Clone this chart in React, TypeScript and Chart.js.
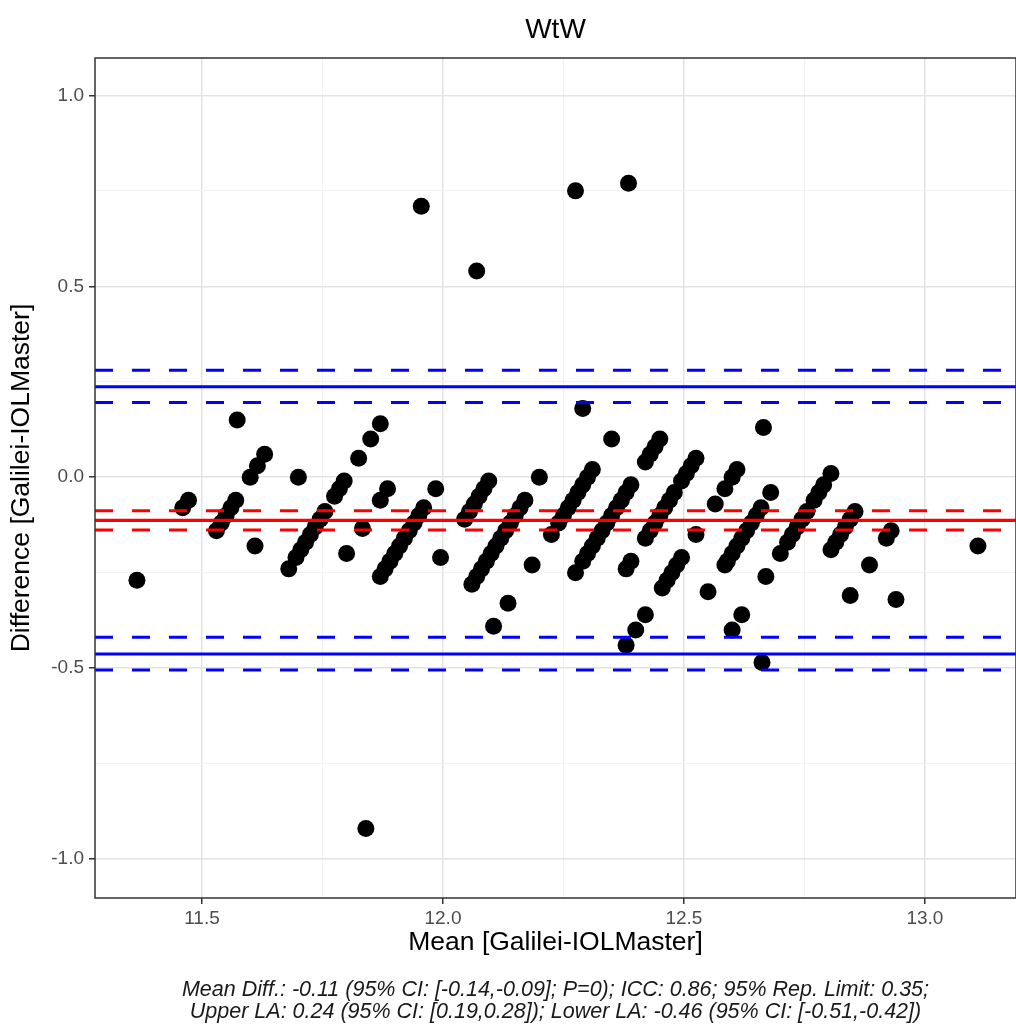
import React, { useEffect, useRef } from "react";
import { Chart, registerables } from "chart.js";

Chart.register(...registerables);

const chartTitle = "WtW";
const xTitle = "Mean [Galilei-IOLMaster]";
const yTitle = "Difference [Galilei-IOLMaster]";
const footerLines = [
  "Mean Diff.: -0.11 (95% CI: [-0.14,-0.09]; P=0); ICC: 0.86; 95% Rep. Limit: 0.35;",
  "Upper LA: 0.24 (95% CI: [0.19,0.28]); Lower LA: -0.46 (95% CI: [-0.51,-0.42])",
];

const xTicks = [11.5, 11.75, 12.0, 12.25, 12.5, 12.75, 13.0];
const yTicks = [-1.0, -0.75, -0.5, -0.25, 0, 0.25, 0.5, 0.75, 1.0];
const xRange = [11.278, 13.189];
const yRange = [-1.102, 1.098];

// Mean of the two devices (x) — one line per diagonal streak
const meanValues = [
  11.573, 11.472, 11.46, 11.365,
  11.6, 11.615, 11.63, 11.57, 11.56, 11.55, 11.54, 11.53,
  11.7, 11.61,
  11.87, 11.85, 11.825, 11.795, 11.785, 11.775, 11.755, 11.745, 11.735, 11.725, 11.715, 11.705, 11.695, 11.68,
  11.885, 11.87, 11.833, 11.8,
  11.985, 11.96, 11.95, 11.94, 11.93, 11.92, 11.91, 11.9, 11.89, 11.88, 11.87,
  12.095, 12.085, 12.075, 12.065, 12.055, 12.045, 11.995,
  12.29, 12.2, 12.17, 12.16, 12.15, 12.14, 12.13, 12.12, 12.11, 12.1, 12.09, 12.08, 12.07, 12.06,
  12.35, 12.31, 12.3, 12.29, 12.28, 12.27, 12.26, 12.25, 12.24, 12.225, 12.185, 12.135, 12.105,
  12.45, 12.44, 12.43, 12.42, 12.39, 12.38, 12.37, 12.36, 12.35, 12.34, 12.33, 12.32, 12.31, 12.3, 12.29, 12.275,
  12.525, 12.515, 12.505, 12.495, 12.48, 12.47, 12.46, 12.45, 12.44, 12.43, 12.42, 12.39, 12.38,
  12.665, 12.61, 12.6, 12.585, 12.565, 12.525, 12.495, 12.485, 12.475, 12.465, 12.455, 12.42, 12.4, 12.38,
  12.68, 12.66, 12.65, 12.64, 12.63, 12.62, 12.61, 12.6, 12.59, 12.585, 12.55,
  12.805, 12.79, 12.78, 12.77, 12.755, 12.745, 12.735, 12.725, 12.715, 12.7, 12.67, 12.62, 12.6, 12.662,
  12.855, 12.845, 12.835, 12.825, 12.815, 12.805,
  12.93, 12.92, 12.885, 12.845, 12.94, 13.11,
  11.955, 12.07, 12.275, 12.385, 11.84,
];

// Difference of the two devices (y) — same order as meanValues
const diffValues = [
  0.15, -0.06, -0.08, -0.27,
  0.0, 0.03, 0.06, -0.06, -0.08, -0.1, -0.12, -0.14,
  0.0, -0.18,
  0.14, 0.1, 0.05, -0.01, -0.03, -0.05, -0.09, -0.11, -0.13, -0.15, -0.17, -0.19, -0.21, -0.24,
  -0.03, -0.06, -0.134, -0.2,
  -0.03, -0.08, -0.1, -0.12, -0.14, -0.16, -0.18, -0.2, -0.22, -0.24, -0.26,
  -0.01, -0.03, -0.05, -0.07, -0.09, -0.11, -0.21,
  0.18, 0.0, -0.06, -0.08, -0.1, -0.12, -0.14, -0.16, -0.18, -0.2, -0.22, -0.24, -0.26, -0.28,
  0.1, 0.02, 0.0, -0.02, -0.04, -0.06, -0.08, -0.1, -0.12, -0.15, -0.23, -0.33, -0.39,
  0.1, 0.08, 0.06, 0.04, -0.02, -0.04, -0.06, -0.08, -0.1, -0.12, -0.14, -0.16, -0.18, -0.2, -0.22, -0.25,
  0.05, 0.03, 0.01, -0.01, -0.04, -0.06, -0.08, -0.1, -0.12, -0.14, -0.16, -0.22, -0.24,
  0.13, 0.02, 0.0, -0.03, -0.07, -0.15, -0.21, -0.23, -0.25, -0.27, -0.29, -0.36, -0.4, -0.44,
  -0.04, -0.08, -0.1, -0.12, -0.14, -0.16, -0.18, -0.2, -0.22, -0.23, -0.3,
  0.01, -0.02, -0.04, -0.06, -0.09, -0.11, -0.13, -0.15, -0.17, -0.2, -0.26, -0.36, -0.4, -0.485,
  -0.09, -0.11, -0.13, -0.15, -0.17, -0.19,
  -0.14, -0.16, -0.23, -0.31, -0.32, -0.18,
  0.71, 0.54, 0.75, 0.77, -0.92,
];

// [estimate, CI lower, CI upper]
const meanDiffLine = [-0.113, -0.138, -0.088];
const upperLALine = [0.237, 0.196, 0.28];
const lowerLALine = [-0.463, -0.505, -0.419];

const FONT = '"Liberation Sans", Arial, Helvetica, sans-serif';

const isMajor = (v: any) =>
  typeof v === "number" && Math.abs(v * 2 - Math.round(v * 2)) < 1e-6;

function hline(y: number, color: string, dashed: boolean) {
  return {
    type: "scatter" as const,
    data: [
      { x: xRange[0], y },
      { x: xRange[1], y },
    ],
    showLine: true,
    borderColor: color,
    backgroundColor: color,
    borderWidth: dashed ? 3 : 3.2,
    borderDash: dashed ? [18, 19] : [],
    pointRadius: 0,
    pointHoverRadius: 0,
    order: 0,
  };
}

const decorPlugin = {
  id: "decor",
  afterDraw(chart: any) {
    const { ctx, chartArea: a } = chart;
    ctx.save();
    ctx.strokeStyle = "#333333";
    ctx.lineWidth = 1.5;
    ctx.strokeRect(a.left, a.top, a.right - a.left, a.bottom - a.top);
    const cx = (a.left + a.right) / 2;
    ctx.textAlign = "center";
    ctx.textBaseline = "middle";
    ctx.fillStyle = "#000000";
    ctx.font = `28px ${FONT}`;
    ctx.fillText(chartTitle, cx, a.top - 28);
    ctx.fillStyle = "#1a1a1a";
    ctx.font = `italic 21.5px ${FONT}`;
    footerLines.forEach((line, i) => ctx.fillText(line, cx, a.bottom + 92 + i * 22));
    ctx.restore();
  },
};

export default function App() {
  const canvasRef = useRef<HTMLCanvasElement | null>(null);

  useEffect(() => {
    if (!canvasRef.current) return;
    const points = meanValues.map((m, i) => ({ x: m, y: diffValues[i] }));
    const gridColor = (ctx: any) =>
      ctx.tick && isMajor(ctx.tick.value) ? "#e3e3e3" : "#f2f2f2";
    const gridWidth = (ctx: any) => (ctx.tick && isMajor(ctx.tick.value) ? 1.5 : 1);
    const tickColor = (ctx: any) =>
      ctx.tick && isMajor(ctx.tick.value) ? "#333333" : "rgba(0,0,0,0)";

    const chart = new Chart(canvasRef.current, {
      type: "scatter",
      data: {
        datasets: [
          hline(upperLALine[0], "#0000ff", false),
          hline(upperLALine[1], "#0000ff", true),
          hline(upperLALine[2], "#0000ff", true),
          hline(lowerLALine[0], "#0000ff", false),
          hline(lowerLALine[1], "#0000ff", true),
          hline(lowerLALine[2], "#0000ff", true),
          hline(meanDiffLine[0], "#ff0000", false),
          hline(meanDiffLine[1], "#ff0000", true),
          hline(meanDiffLine[2], "#ff0000", true),
          {
            type: "scatter",
            data: points,
            backgroundColor: "#000000",
            borderColor: "#000000",
            borderWidth: 0,
            pointRadius: 8.5,
            pointHoverRadius: 8.5,
            order: 1,
          } as any,
        ] as any,
      },
      options: {
        animation: false,
        responsive: false,
        devicePixelRatio: 1,
        layout: { autoPadding: false, padding: { top: 58, bottom: 65, left: 0, right: 0 } },
        plugins: {
          legend: { display: false },
          tooltip: { enabled: false },
          title: { display: false },
        },
        scales: {
          x: {
            type: "linear",
            min: xRange[0],
            max: xRange[1],
            afterBuildTicks: (s: any) => {
              s.ticks = xTicks.map((v) => ({ value: v }));
            },
            afterFit: (s: any) => {
              s.height = 62;
              s.paddingLeft = 0;
              s.paddingRight = 0;
            },
            ticks: {
              autoSkip: false,
              maxRotation: 0,
              padding: 3,
              color: "#4d4d4d",
              font: { family: FONT, size: 19 },
              callback: (v: any) => (isMajor(v) ? Number(v).toFixed(1) : ""),
            },
            grid: {
              color: gridColor,
              lineWidth: gridWidth,
              tickColor: tickColor,
              tickLength: 6,
              drawTicks: true,
            },
            border: { display: false },
            title: {
              display: true,
              text: xTitle,
              color: "#000000",
              font: { family: FONT, size: 26.5 },
              padding: { top: 0, bottom: 1.1 },
            },
          },
          y: {
            type: "linear",
            min: yRange[0],
            max: yRange[1],
            afterBuildTicks: (s: any) => {
              s.ticks = yTicks.map((v) => ({ value: v }));
            },
            afterFit: (s: any) => {
              s.width = 95;
              s.paddingTop = 0;
              s.paddingBottom = 0;
            },
            ticks: {
              autoSkip: false,
              padding: 5,
              color: "#4d4d4d",
              font: { family: FONT, size: 19 },
              callback: (v: any) => (isMajor(v) ? Number(v).toFixed(1) : ""),
            },
            grid: {
              color: gridColor,
              lineWidth: gridWidth,
              tickColor: tickColor,
              tickLength: 6,
              drawTicks: true,
            },
            border: { display: false },
            title: {
              display: true,
              text: yTitle,
              color: "#000000",
              font: { family: FONT, size: 26.5 },
              padding: { top: 6.1, bottom: 0 },
            },
          },
        },
      },
      plugins: [decorPlugin],
    });
    return () => chart.destroy();
  }, []);

  return (
    <div style={{ position: "absolute", left: 0, top: 0, width: 1016, height: 1025, background: "#ffffff" }}>
      <canvas ref={canvasRef} width={1016} height={1025} style={{ width: 1016, height: 1025, display: "block" }} />
    </div>
  );
}
